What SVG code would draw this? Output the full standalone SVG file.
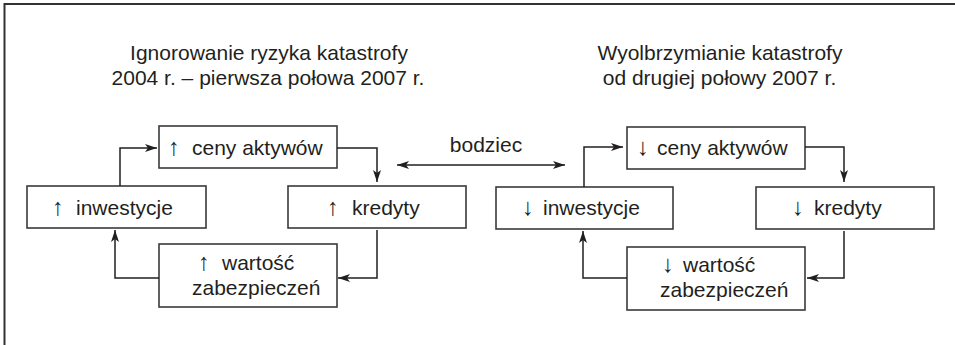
<svg xmlns="http://www.w3.org/2000/svg" width="955" height="345" viewBox="0 0 955 345">
<style>
text{font-family:"Liberation Sans",Arial,sans-serif;font-size:21px;fill:#231f20}
.ar{font-size:24px}
.box{fill:#fff;stroke:#3a3a3a;stroke-width:1.6}
.c{fill:none;stroke:#231f20;stroke-width:1.5}
.frame{stroke:#333;stroke-width:2;fill:none}
</style>
<defs>
<marker id="ah" viewBox="0 0 12 8" refX="12" refY="4" markerWidth="12" markerHeight="8" markerUnits="userSpaceOnUse" orient="auto-start-reverse">
<path d="M0,0 L12,4 L0,8 L3,4 z" fill="#231f20"/>
</marker>
</defs>
<rect width="955" height="345" fill="#fff"/>
<path class="frame" d="M4.5,345 V4 H955"/>

<g id="title-left">
<text x="269" y="60" text-anchor="middle">Ignorowanie ryzyka katastrofy</text>
<text x="268" y="85" text-anchor="middle">2004 r. – pierwsza połowa 2007 r.</text>
</g>
<g id="title-right">
<text x="720" y="60" text-anchor="middle">Wyolbrzymianie katastrofy</text>
<text x="719.5" y="85" text-anchor="middle">od drugiej połowy 2007 r.</text>
</g>

<g id="l-ceny"><rect class="box" x="159" y="126" width="178" height="42"/><text y="155"><tspan class="ar" x="168">↑</tspan><tspan x="192">ceny aktywów</tspan></text></g>
<g id="l-inwestycje"><rect class="box" x="27" y="186" width="179" height="42"/><text y="215"><tspan class="ar" x="52">↑</tspan><tspan x="76">inwestycje</tspan></text></g>
<g id="l-kredyty"><rect class="box" x="288" y="186" width="178" height="42"/><text y="215"><tspan class="ar" x="327">↑</tspan><tspan x="352">kredyty</tspan></text></g>
<g id="l-wartosc"><rect class="box" x="159" y="244" width="178" height="63"/><text y="270"><tspan class="ar" x="198">↑</tspan><tspan x="222">wartość</tspan></text><text x="192" y="295">zabezpieczeń</text></g>

<g id="r-ceny"><rect class="box" x="627" y="127" width="178" height="42"/><text y="155"><tspan class="ar" x="637">↓</tspan><tspan x="657">ceny aktywów</tspan></text></g>
<g id="r-inwestycje"><rect class="box" x="496" y="187" width="177" height="42"/><text y="215"><tspan class="ar" x="522">↓</tspan><tspan x="543">inwestycje</tspan></text></g>
<g id="r-kredyty"><rect class="box" x="756" y="187" width="178" height="42"/><text y="215"><tspan class="ar" x="792">↓</tspan><tspan x="814">kredyty</tspan></text></g>
<g id="r-wartosc"><rect class="box" x="627" y="247" width="178" height="63"/><text y="272"><tspan class="ar" x="662">↓</tspan><tspan x="683">wartość</tspan></text><text x="660" y="297">zabezpieczeń</text></g>

<g id="bodziec"><text x="486" y="152" text-anchor="middle">bodziec</text></g>

<g id="connectors">
<path class="c" d="M120,186 V148 H157" marker-end="url(#ah)"/>
<path class="c" d="M337,148 H377 V182" marker-end="url(#ah)"/>
<path class="c" d="M377,230 V278 H338" marker-end="url(#ah)"/>
<path class="c" d="M159,278 H115 V230" marker-end="url(#ah)"/>

<path class="c" d="M584,187 V147 H623" marker-end="url(#ah)"/>
<path class="c" d="M805,147 H844 V182" marker-end="url(#ah)"/>
<path class="c" d="M844,231 V278 H807" marker-end="url(#ah)"/>
<path class="c" d="M627,278 H583 V231" marker-end="url(#ah)"/>

<path class="c" d="M397,165 H565" marker-start="url(#ah)" marker-end="url(#ah)"/>
</g>
</svg>
